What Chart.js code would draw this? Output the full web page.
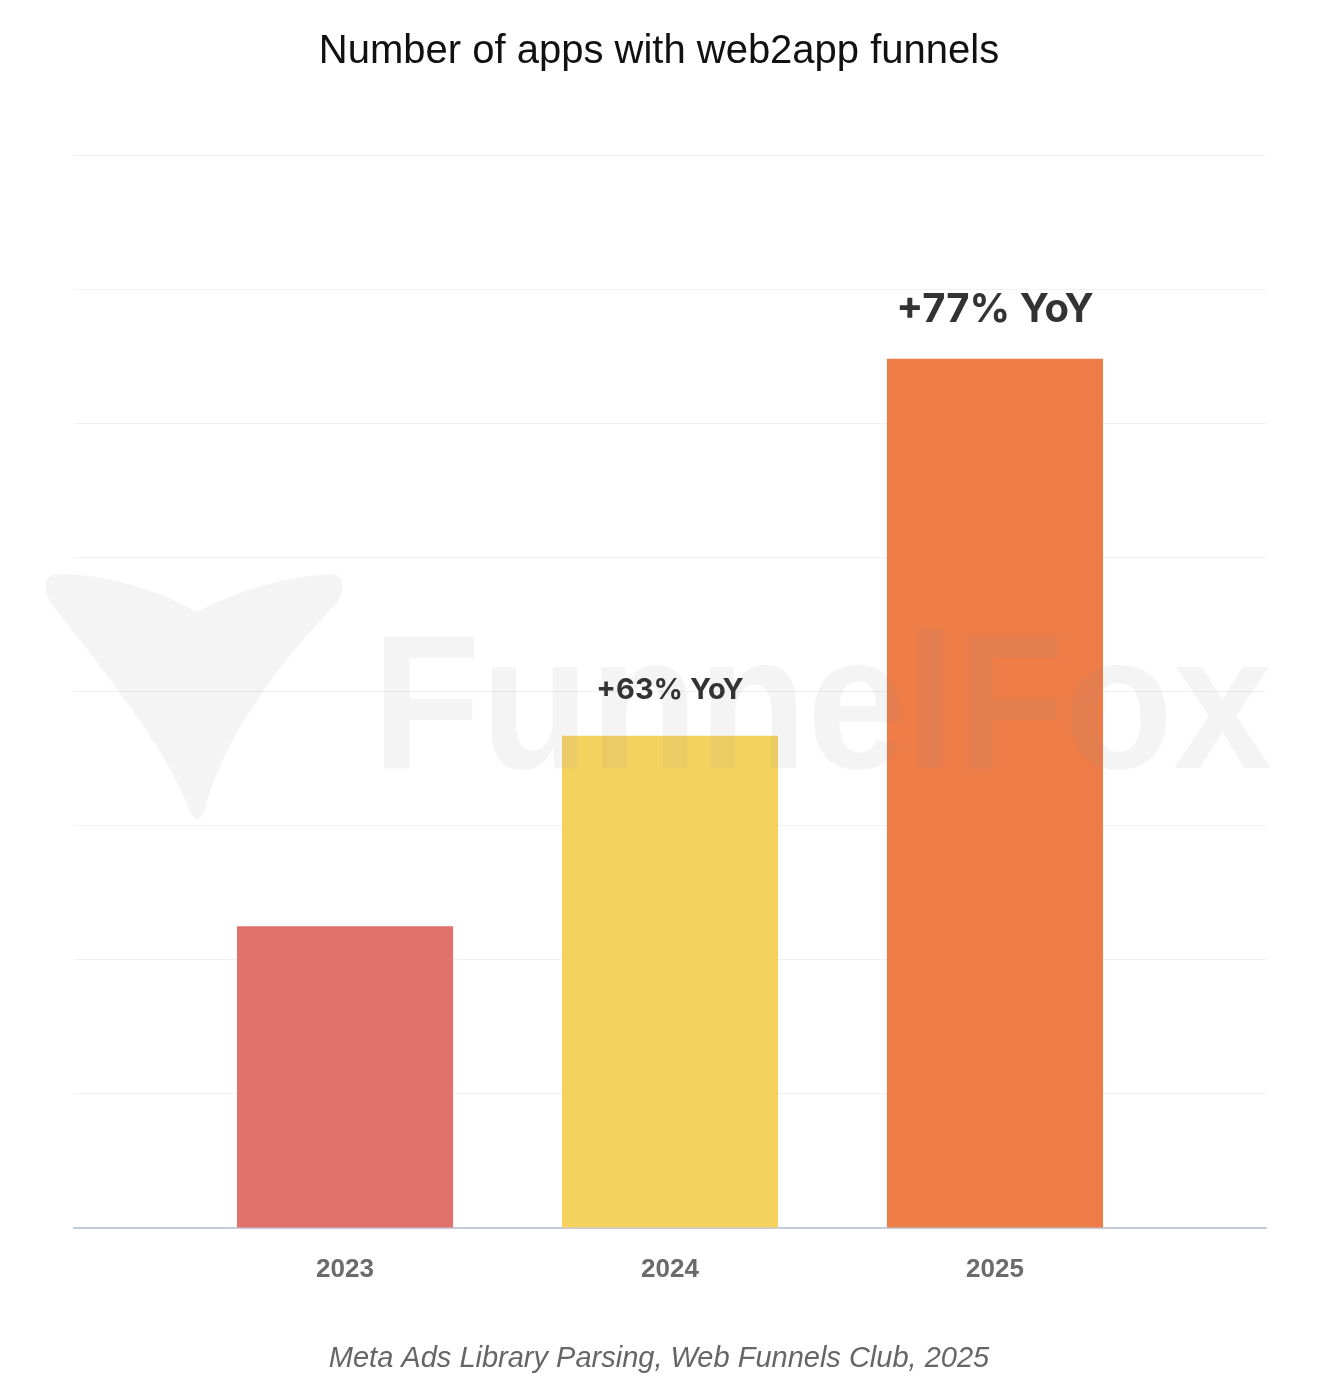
<!DOCTYPE html>
<html>
<head>
<meta charset="utf-8">
<script src="https://cdn.jsdelivr.net/npm/chart.js@4.4.1/dist/chart.umd.min.js"></script>
<style>
  html, body { margin: 0; padding: 0; background: #fff; }
  #wrap { width: 1329px; height: 1398px; }
</style>
</head>
<body>
<div id="wrap"><canvas id="chart" width="1329" height="1398"></canvas></div>
<script>
// data (arbitrary units, grid step 100)
const years = ['2023', '2024', '2025'];
const appCounts = [225, 367, 648];
const barColors = ['#e2716b', '#f5d25e', '#ee7c47'];
const yoyLabels = ['', '+63% YoY', '+77% YoY'];
const yoyFontSizes = [0, 29, 40];

// faint FunnelFox watermark, drawn over the bars
const watermark = {
    id: 'watermark',
    afterDatasetsDraw(chart) {
        const ctx = chart.ctx;
        ctx.save();
        ctx.fillStyle = 'rgba(150,150,150,0.1)';
        // fox head
        ctx.beginPath();
        ctx.moveTo(197, 612);
        ctx.quadraticCurveTo(130, 575, 58, 574);
        ctx.quadraticCurveTo(38, 576, 50, 602);
        ctx.bezierCurveTo(120, 690, 172, 760, 190, 812);
        ctx.quadraticCurveTo(197, 826, 204, 812);
        ctx.bezierCurveTo(222, 740, 280, 660, 338, 602);
        ctx.quadraticCurveTo(350, 576, 332, 574);
        ctx.quadraticCurveTo(262, 578, 197, 612);
        ctx.fill();
        // wordmark
        ctx.font = 'bold 192px "Liberation Sans", Arial, sans-serif';
        ctx.textAlign = 'left';
        ctx.textBaseline = 'alphabetic';
        ctx.fillText('FunnelFox', 372, 768, 900);
        ctx.restore();
    }
};

// YoY notes above bars
const yoyNotes = {
    id: 'yoyNotes',
    afterDatasetsDraw(chart) {
        const ctx = chart.ctx;
        const meta = chart.getDatasetMeta(0);
        ctx.save();
        ctx.fillStyle = '#333333';
        ctx.textAlign = 'center';
        ctx.textBaseline = 'alphabetic';
        meta.data.forEach((bar, i) => {
            if (!yoyLabels[i]) return;
            ctx.font = `bold ${yoyFontSizes[i]}px Inter, "Open Sans", sans-serif`;
            ctx.fillText(yoyLabels[i], bar.x, bar.y - 37);
        });
        ctx.restore();
    }
};

new Chart(document.getElementById('chart'), {
    type: 'bar',
    data: {
        datasets: [{
            data: appCounts.map((v, i) => ({ x: i, y: v })),
            backgroundColor: barColors,
            borderWidth: 0,
            categoryPercentage: 1,
            barPercentage: 0.665
        }]
    },
    options: {
        responsive: false,
        animation: false,
        layout: { padding: { left: 52, right: 63, top: 0, bottom: 0 } },
        plugins: {
            legend: { display: false },
            tooltip: { enabled: false },
            title: {
                display: true,
                text: 'Number of apps with web2app funnels',
                color: '#111111',
                font: { family: '"Liberation Sans", Arial, sans-serif', size: 40, weight: 'normal', lineHeight: 1.2 },
                padding: { top: 28, bottom: 79 }
            },
            subtitle: {
                display: true,
                position: 'bottom',
                text: 'Meta Ads Library Parsing, Web Funnels Club, 2025',
                color: '#666666',
                font: { family: '"Liberation Sans", Arial, sans-serif', size: 29, style: 'italic', lineHeight: 1.2 },
                padding: { top: 30, bottom: 22 }
            }
        },
        scales: {
            x: {
                type: 'linear',
                offset: false,
                min: -0.834,
                max: 2.834,
                grid: { display: false, drawTicks: false },
                border: { display: true, color: '#c3ccd8', width: 2 },
                afterBuildTicks: (scale) => { scale.ticks = years.map((_, i) => ({ value: i })); },
                ticks: {
                    color: '#6b6b6b',
                    padding: 26,
                    autoSkip: false,
                    maxRotation: 0,
                    callback: (v) => years[v],
                    font: { family: '"Liberation Sans", Arial, sans-serif', size: 26, weight: 'bold', lineHeight: 1.2 }
                }
            },
            y: {
                min: 0,
                max: 800,
                grid: { color: '#f1f1f1', lineWidth: 1, drawTicks: false, tickLength: 0 },
                border: { display: false },
                afterFit: (scale) => { scale.width = 22; },
                ticks: { display: false, stepSize: 100 }
            }
        }
    },
    plugins: [watermark, yoyNotes]
});
</script>
</body>
</html>
